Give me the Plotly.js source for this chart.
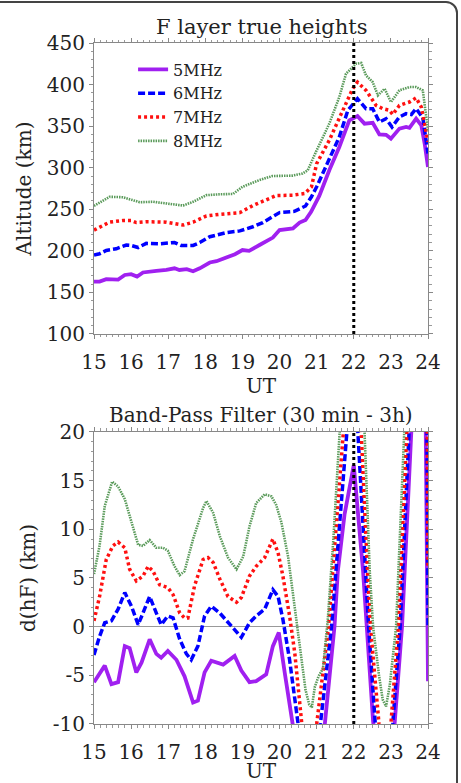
<!DOCTYPE html>
<html>
<head>
<meta charset="utf-8">
<script src="https://cdn.plot.ly/plotly-3.0.1.min.js"></script>
<style>
  html, body { margin: 0; padding: 0; background: #fff; }
  #chart { position: absolute; left: 0; top: 0; width: 461px; height: 783px; }
  #frame { position: absolute; left: -14px; top: 1px; width: 472px; height: 810px;
           border: 2px solid #444; border-radius: 12px; pointer-events: none; box-sizing: border-box; }
</style>
</head>
<body>
<div id="chart"></div>
<div id="frame"></div>
<script>
// ---------- Top panel: F layer true heights (km) vs UT (h) ----------
const t5 = [15.0,15.15,15.33,15.65,15.83,16.0,16.16,16.32,16.68,16.95,17.17,17.3,17.5,17.67,17.85,18.12,18.3,18.57,18.8,19.0,19.18,19.46,19.64,19.82,20.0,20.18,20.36,20.54,20.7,20.85,21.07,21.34,21.61,21.88,22.1,22.29,22.51,22.69,22.87,23.0,23.23,23.41,23.5,23.68,23.82,23.91,24.0];
const h5 = [163,163,166,165.5,171,172,169,174,176,177,179,177,178,175.5,179,186,187.5,192,196,201,200,207,211,216,225,226,227,234,237,247,266,297,325,357,362,353,354,340,339.5,335,347,349,348,359,351,329,301];

const t6 = [15.0,15.15,15.33,15.6,15.87,16.0,16.19,16.41,16.77,17.17,17.35,17.67,17.85,18.12,18.57,18.93,19.28,19.55,20.0,20.4,20.7,20.86,21.0,21.34,21.61,21.84,22.1,22.33,22.51,22.69,22.87,23.03,23.23,23.41,23.55,23.68,23.86,24.0];
const h6 = [195,196.5,200.5,202.5,207,206.5,204,209,208.5,210,206.5,206.5,210,217,222,224,229,234,246,247.5,254,265,277,311,337,369,383,371,371,355,359,349,361,365,364,371,360,317];

const t7 = [15.0,15.15,15.42,15.78,16.0,16.14,16.41,16.95,17.4,17.67,18.03,18.39,18.93,19.28,19.64,19.91,20.36,20.68,20.86,21.0,21.34,21.7,21.97,22.1,22.33,22.6,22.78,22.96,23.05,23.23,23.5,23.68,23.82,24.0];
const h7 = [225,228,234.5,236.5,236.5,234,235,234.5,231,234.5,242,244,246,254.5,261,266.5,267,269,277,305,333,369,395,403,393,375,371,369,364,375,379,384,373,331];

const t8 = [15.0,15.15,15.42,15.78,16.05,16.23,16.59,16.95,17.4,17.67,18.03,18.39,18.75,19.0,19.45,19.81,20.08,20.35,20.62,20.76,20.98,21.34,21.61,21.79,21.97,22.06,22.2,22.33,22.51,22.65,22.83,23.0,23.23,23.5,23.68,23.86,24.0];
const h8 = [254,258,265,264.5,261,258.5,259,257,254.5,259,267,268,268.5,277,285,290,290.5,290.5,293,297,319,353,385,413,421,425,426,411,403,387,395,379,393,397,397,393,345];

// ---------- Bottom panel: band-pass filtered d(hF) (km) ----------
const bt5 = [15.0,15.29,15.47,15.65,15.83,15.96,16.14,16.28,16.5,16.68,16.81,16.99,17.22,17.44,17.67,17.8,17.98,18.16,18.48,18.79,18.97,19.19,19.37,19.64,19.82,19.98,20.15,20.32,20.55,20.8,21.0,21.22,21.48,21.57,21.75,22.0,22.25,22.35,22.52,22.8,23.1,23.3,23.55,23.75,23.94,24.0];
const d5  = [-5.7,-4.0,-5.9,-5.7,-2.0,-2.2,-4.7,-3.7,-1.3,-2.8,-3.2,-2.5,-3.4,-5.1,-7.8,-7.6,-4.7,-3.5,-3.9,-3.0,-4.5,-5.7,-5.6,-4.9,-2.0,-0.6,-5.0,-9.8,-17,-21,-17,-10,0,5.7,11.5,16.6,5.7,0,-9.7,-19,-10,0,20,28,20,-5.6];

const bt6 = [15.0,15.15,15.29,15.47,15.65,15.83,16.01,16.19,16.32,16.5,16.68,16.81,16.99,17.13,17.31,17.49,17.62,17.8,17.98,18.16,18.39,18.61,18.84,18.97,19.19,19.37,19.6,19.82,19.96,20.09,20.27,20.45,20.5,20.82,21.1,21.4,21.8,21.96,22.11,22.31,22.4,22.58,22.82,23.05,23.25,23.49,23.72,23.97,24.0];
const d6  = [-2.9,-1.0,0.4,0.6,1.8,3.5,2.1,0.2,1.4,3.1,1.4,0.2,1.1,0.9,-1.3,-2.8,-3.4,-2.0,1.1,2.1,1.4,0.4,-0.6,-1.1,0.4,1.1,1.8,3.8,3.1,0.75,-3.4,-8.8,-10,-17,-10,0,20,27,20,5.7,0,-10,-17,-10,0,20,30,20,0];

const bt7 = [15.0,15.15,15.33,15.51,15.65,15.83,15.96,16.14,16.32,16.46,16.59,16.77,16.99,17.13,17.31,17.44,17.53,17.71,17.94,18.07,18.21,18.39,18.61,18.84,18.97,19.19,19.37,19.6,19.82,19.96,20.09,20.27,20.41,20.54,20.6,20.8,21.0,21.32,21.72,21.96,22.2,22.37,22.45,22.68,22.84,23.0,23.2,23.43,23.7,23.98,24.0];
const d7  = [0.6,3.1,6.9,8.3,8.7,8.1,5.9,4.7,5.2,6.2,5.7,4.3,4.0,3.3,1.4,0.9,0.9,4.2,6.9,7.1,6.6,4.9,3.1,2.5,3.0,5.2,6.2,7.1,9.0,7.6,5.2,1.1,-2.7,-8.1,-10,-14,-10,0,20,30,20,5.7,0,-10,-15,-10,0,20,31,20,6];

const bt8 = [15.0,15.15,15.29,15.49,15.65,15.83,15.96,16.19,16.32,16.5,16.68,16.86,16.99,17.17,17.31,17.44,17.67,17.94,18.03,18.21,18.39,18.61,18.84,19.02,19.19,19.37,19.6,19.78,19.91,20.05,20.23,20.41,20.5,20.6,20.7,20.8,20.87,20.95,21.05,21.17,21.3,21.45,21.62,21.97,22.29,22.43,22.52,22.68,22.78,22.87,22.97,23.14,23.36,23.7,24.0];
const d8  = [5.4,8.3,12.4,14.9,14.4,13.1,11.4,8.4,8.3,8.9,8.1,8.1,7.8,6.2,5.3,5.7,9.0,12.2,12.9,11.7,9.3,7.1,5.9,7.2,10.3,12.7,13.6,13.4,12.5,10.7,7.2,2.1,-0.5,-3.6,-6.5,-8.0,-8.3,-6.2,-5.1,-4.3,0.75,9,20,34,20,5.7,0,-5,-7.5,-8.2,-6,0,20,32,24];

// ---------- labels / ticks ----------
const seriesNames = ['5MHz','6MHz','7MHz','8MHz'];
const eventTimes = [22];
const xTickVals = [15,16,17,18,19,20,21,22,23,24];
const topTickVals = [100,150,200,250,300,350,400,450];
const botTickVals = [-10,-5,0,5,10,15,20];
const botTickText = ['-10','-5','0','5','10','15','20'];

const styles = [
  {color:'#a020f0', width:3.8, dash:'solid'},
  {color:'#0000ff', width:3.5, dash:'7px,3px'},
  {color:'#ff1010', width:3.5, dash:'3px,3px'},
  {color:'#5b9b5b', width:2.6, dash:'1.5px,1px'}
];

const topX = [t5,t6,t7,t8], topY = [h5,h6,h7,h8];
const botX = [bt5,bt6,bt7,bt8], botY = [d5,d6,d7,d8];

const traces = [];
for (let i = 0; i < 4; i++) {
  traces.push({x: topX[i], y: topY[i], xaxis:'x', yaxis:'y', mode:'lines', name: seriesNames[i],
    line: {color: styles[i].color, width: styles[i].width, dash: styles[i].dash}, showlegend: true});
}
for (let i = 0; i < 4; i++) {
  traces.push({x: botX[i], y: botY[i], xaxis:'x2', yaxis:'y2', mode:'lines', name: seriesNames[i],
    line: {color: styles[i].color, width: styles[i].width, dash: styles[i].dash}, showlegend: false});
}

const serif = 'DejaVu Serif, serif';
const tickFont = {family: serif, size: 20, color: '#222'};
const titleFont = {family: serif, size: 20, color: '#222'};
const panelTitleFont = {family: serif, size: 21, color: '#222'};

function xAx(anchor) {
  return {anchor: anchor, range:[15,24], tickvals: xTickVals, ticks:'outside', ticklen:4, tickcolor:'#888',
    showline:true, linecolor:'#888', linewidth:1, mirror:'ticks', showgrid:false, zeroline:false,
    tickfont: tickFont, ticklabelstandoff: 6,
    minor: {dtick: 1/6, ticks:'outside', ticklen:2.5, tickcolor:'#999', showgrid:false},
    title: {text:'UT', font: titleFont, standoff: 5}};
}

const shapes = [];
eventTimes.forEach(t => {
  ['y','y2'].forEach((ya, k) => {
    shapes.push({type:'line', xref: k ? 'x2' : 'x', yref: ya + ' domain', x0: t, x1: t, y0: 0, y1: 1,
      line: {color:'#000', width: 3, dash:'3px,3px'}});
  });
});

const layout = {
  width: 461, height: 783,
  margin: {l: 94, r: 33, t: 43, b: 59},
  paper_bgcolor:'#fff', plot_bgcolor:'#fff',
  showlegend: true,
  legend: {x: 0.117, y: 0.986, xanchor:'left', yanchor:'top', bgcolor:'rgba(0,0,0,0)',
    font: {family: serif, size: 16, color:'#222'}, tracegroupgap: 0},
  xaxis: xAx('y'),
  xaxis2: xAx('y2'),
  yaxis: {domain:[0.5727,1], range:[100,450], tickvals: topTickVals, ticks:'outside', ticklen:4, tickcolor:'#888',
    showline:true, linecolor:'#888', mirror:'ticks', showgrid:false, zeroline:false, tickfont: tickFont,
    minor: {dtick:10, ticks:'outside', ticklen:2.5, tickcolor:'#999', showgrid:false},
    title: {text:'Altitude (km)', font: titleFont, standoff: 9}},
  yaxis2: {domain:[0,0.4288], range:[-10,20], tickvals: botTickVals, ticktext: botTickText, ticks:'outside', ticklen:4, tickcolor:'#888',
    showline:true, linecolor:'#888', mirror:'ticks', showgrid:false, zeroline:true, zerolinecolor:'#999', zerolinewidth:1.2,
    tickfont: tickFont,
    minor: {dtick:1, ticks:'outside', ticklen:2.5, tickcolor:'#999', showgrid:false},
    title: {text:'d(hF) (km)', font: titleFont, standoff: 11}},
  shapes: shapes,
  annotations: [
    {text:'F layer true heights', xref:'paper', yref:'paper', x:0.5, y:1, xanchor:'center', yanchor:'bottom',
      yshift: 2, showarrow:false, font: panelTitleFont},
    {text:'Band-Pass Filter (30 min - 3h)', xref:'paper', yref:'paper', x:0.5, y:0.4288, xanchor:'center', yanchor:'bottom',
      yshift: 3, showarrow:false, font: titleFont}
  ]
};

Plotly.newPlot('chart', traces, layout, {displayModeBar:false, staticPlot:true});
</script>
</body>
</html>
